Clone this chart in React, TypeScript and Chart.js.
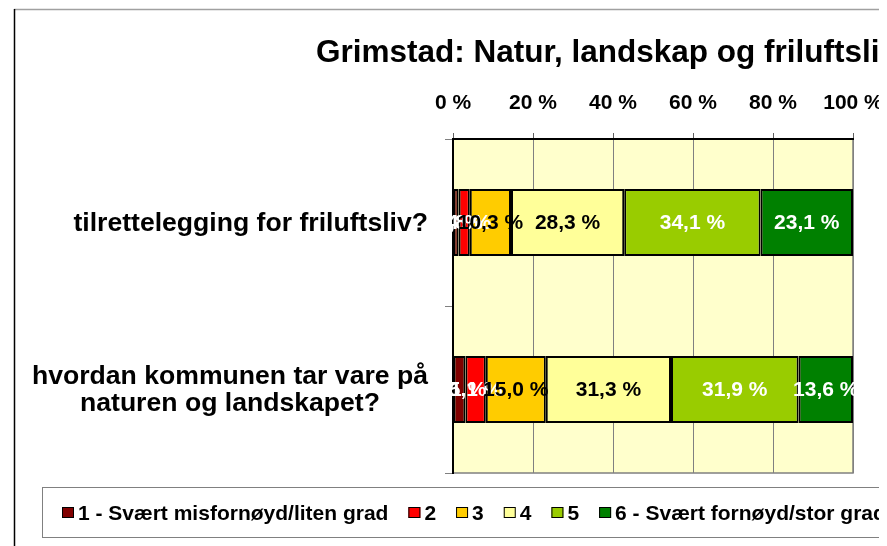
import React, { useEffect, useRef } from 'react';
import { Chart, registerables } from 'chart.js';

Chart.register(...registerables);

const chartTitle = 'Grimstad: Natur, landskap og friluftsliv';
const categories = [
  ['tilrettelegging for friluftsliv?'],
  ['hvordan kommunen tar vare på', 'naturen og landskapet?'],
];
const seriesNames = [
  '1 - Svært misfornøyd/liten grad',
  '2',
  '3',
  '4',
  '5',
  '6 - Svært fornøyd/stor grad',
];
const series1 = [1.4, 3.1];
const series2 = [2.8, 5.1];
const series3 = [10.3, 15.0];
const series4 = [28.3, 31.3];
const series5 = [34.1, 31.9];
const series6 = [23.1, 13.6];
const xTickValues = [0, 20, 40, 60, 80, 100];

const seriesColors = ['#800000', '#FF0000', '#FFCC00', '#FFFF99', '#99CC00', '#008000'];
const valueLabelColors = ['#FFFFFF', '#FFFFFF', '#000000', '#000000', '#FFFFFF', '#FFFFFF'];

const FONT = '"Liberation Sans", Arial, Helvetica, sans-serif';

const fmt = (v: number) => v.toFixed(1).replace('.', ',') + ' %';

const decorPlugin = {
  id: 'decor',
  beforeDraw(chart: any) {
    const { ctx, chartArea: a, width, height } = chart;
    ctx.save();
    ctx.fillStyle = '#FFFFFF';
    ctx.fillRect(0, 0, width, height);
    ctx.fillStyle = '#FFFFCC';
    ctx.fillRect(a.left, a.top, a.right - a.left, a.bottom - a.top);
    ctx.strokeStyle = '#808080';
    ctx.lineWidth = 1.5;
    ctx.strokeRect(a.left, a.top, a.right - a.left, a.bottom - a.top);
    ctx.restore();
  },
  afterDatasetsDraw(chart: any) {
    const { ctx } = chart;
    ctx.save();
    ctx.font = `bold 21px ${FONT}`;
    ctx.textAlign = 'center';
    ctx.textBaseline = 'middle';
    chart.data.datasets.forEach((ds: any, i: number) => {
      const meta = chart.getDatasetMeta(i);
      meta.data.forEach((el: any, j: number) => {
        const v = ds.data[j];
        const cx = (el.x + el.base) / 2;
        ctx.fillStyle = valueLabelColors[i];
        ctx.fillText(fmt(v), cx, el.y + 1);
      });
    });
    ctx.restore();
  },
  afterDraw(chart: any) {
    const { ctx, width, height } = chart;
    ctx.save();
    // outer frame
    ctx.strokeStyle = '#A0A0A0';
    ctx.lineWidth = 1.5;
    ctx.beginPath();
    ctx.moveTo(6, 1.5);
    ctx.lineTo(width, 1.5);
    ctx.stroke();
    ctx.strokeStyle = '#000000';
    ctx.beginPath();
    ctx.moveTo(6.5, 1);
    ctx.lineTo(6.5, height);
    ctx.stroke();

    // title
    ctx.fillStyle = '#000000';
    ctx.font = `bold 31.5px ${FONT}`;
    ctx.textAlign = 'left';
    ctx.textBaseline = 'alphabetic';
    ctx.fillText(chartTitle, 308, 54);

    // category labels
    const yScale = chart.scales.y;
    ctx.font = `bold 26.6px ${FONT}`;
    ctx.textAlign = 'center';
    ctx.textBaseline = 'middle';
    const lineH = 27;
    (chart.data.labels as string[][]).forEach((lines, i) => {
      const cy = yScale.getPixelForValue(i);
      const maxW = Math.max(...lines.map((l) => ctx.measureText(l).width));
      const cx = 420 - maxW / 2;
      const y0 = cy - ((lines.length - 1) * lineH) / 2;
      lines.forEach((l, k) => ctx.fillText(l, cx, y0 + k * lineH + 1));
    });

    // legend
    ctx.strokeStyle = '#808080';
    ctx.lineWidth = 1;
    ctx.strokeRect(34.5, 479.5, 1000, 50);
    ctx.font = `bold 21px ${FONT}`;
    ctx.textAlign = 'left';
    ctx.textBaseline = 'middle';
    let x = 54;
    const cy = 505;
    chart.data.datasets.forEach((ds: any) => {
      ctx.fillStyle = ds.backgroundColor;
      ctx.fillRect(x, cy - 6, 12, 11);
      ctx.strokeStyle = '#000000';
      ctx.strokeRect(x + 0.5, cy - 5.5, 11, 10);
      ctx.fillStyle = '#000000';
      ctx.fillText(ds.label, x + 16, cy + 1);
      x += 16 + ctx.measureText(ds.label).width + 20;
    });
    ctx.restore();
  },
};

export default function App() {
  const ref = useRef<HTMLCanvasElement | null>(null);

  useEffect(() => {
    if (!ref.current) return;
    const values = [series1, series2, series3, series4, series5, series6];
    const chart = new Chart(ref.current, {
      type: 'bar',
      data: {
        labels: categories as any,
        datasets: values.map((d, i) => ({
          label: seriesNames[i],
          data: d,
          backgroundColor: seriesColors[i],
          borderColor: '#000000',
          borderWidth: 2,
          borderSkipped: false,
          barPercentage: 0.4,
          categoryPercentage: 1,
        })),
      },
      options: {
        indexAxis: 'y',
        animation: false,
        responsive: true,
        maintainAspectRatio: false,
        layout: { padding: { top: 60, bottom: 73, left: 0, right: 34 } },
        plugins: {
          legend: { display: false },
          title: { display: false },
          tooltip: { enabled: false },
        },
        scales: {
          x: {
            position: 'top',
            stacked: true,
            min: 0,
            max: 100,
            afterBuildTicks: (scale: any) => {
              scale.ticks = xTickValues.map((v) => ({ value: v }));
            },
            afterFit: (scale: any) => {
              scale.height = 71;
              scale.paddingLeft = 0;
              scale.paddingRight = 0;
            },
            ticks: {
              color: '#000000',
              font: { family: FONT, size: 21, weight: 'bold' },
              padding: 17,
              maxRotation: 0,
              callback: (v: any) => `${v} %`,
            },
            grid: {
              color: '#808080',
              lineWidth: 1,
              tickLength: 6,
              tickColor: '#606060',
            },
            border: { display: true, color: '#000000', width: 2 },
          },
          y: {
            stacked: true,
            afterFit: (scale: any) => {
              scale.width = 445;
              scale.paddingTop = 0;
              scale.paddingBottom = 0;
            },
            ticks: { display: false },
            grid: {
              offset: true,
              drawOnChartArea: false,
              drawTicks: true,
              tickLength: 8,
              tickColor: '#808080',
            },
            border: { display: true, color: '#000000', width: 2 },
          },
        },
      },
      plugins: [decorPlugin],
    });
    return () => chart.destroy();
  }, []);

  return (
    <div style={{ width: 879, height: 538, position: 'relative' }}>
      <canvas ref={ref} />
    </div>
  );
}
